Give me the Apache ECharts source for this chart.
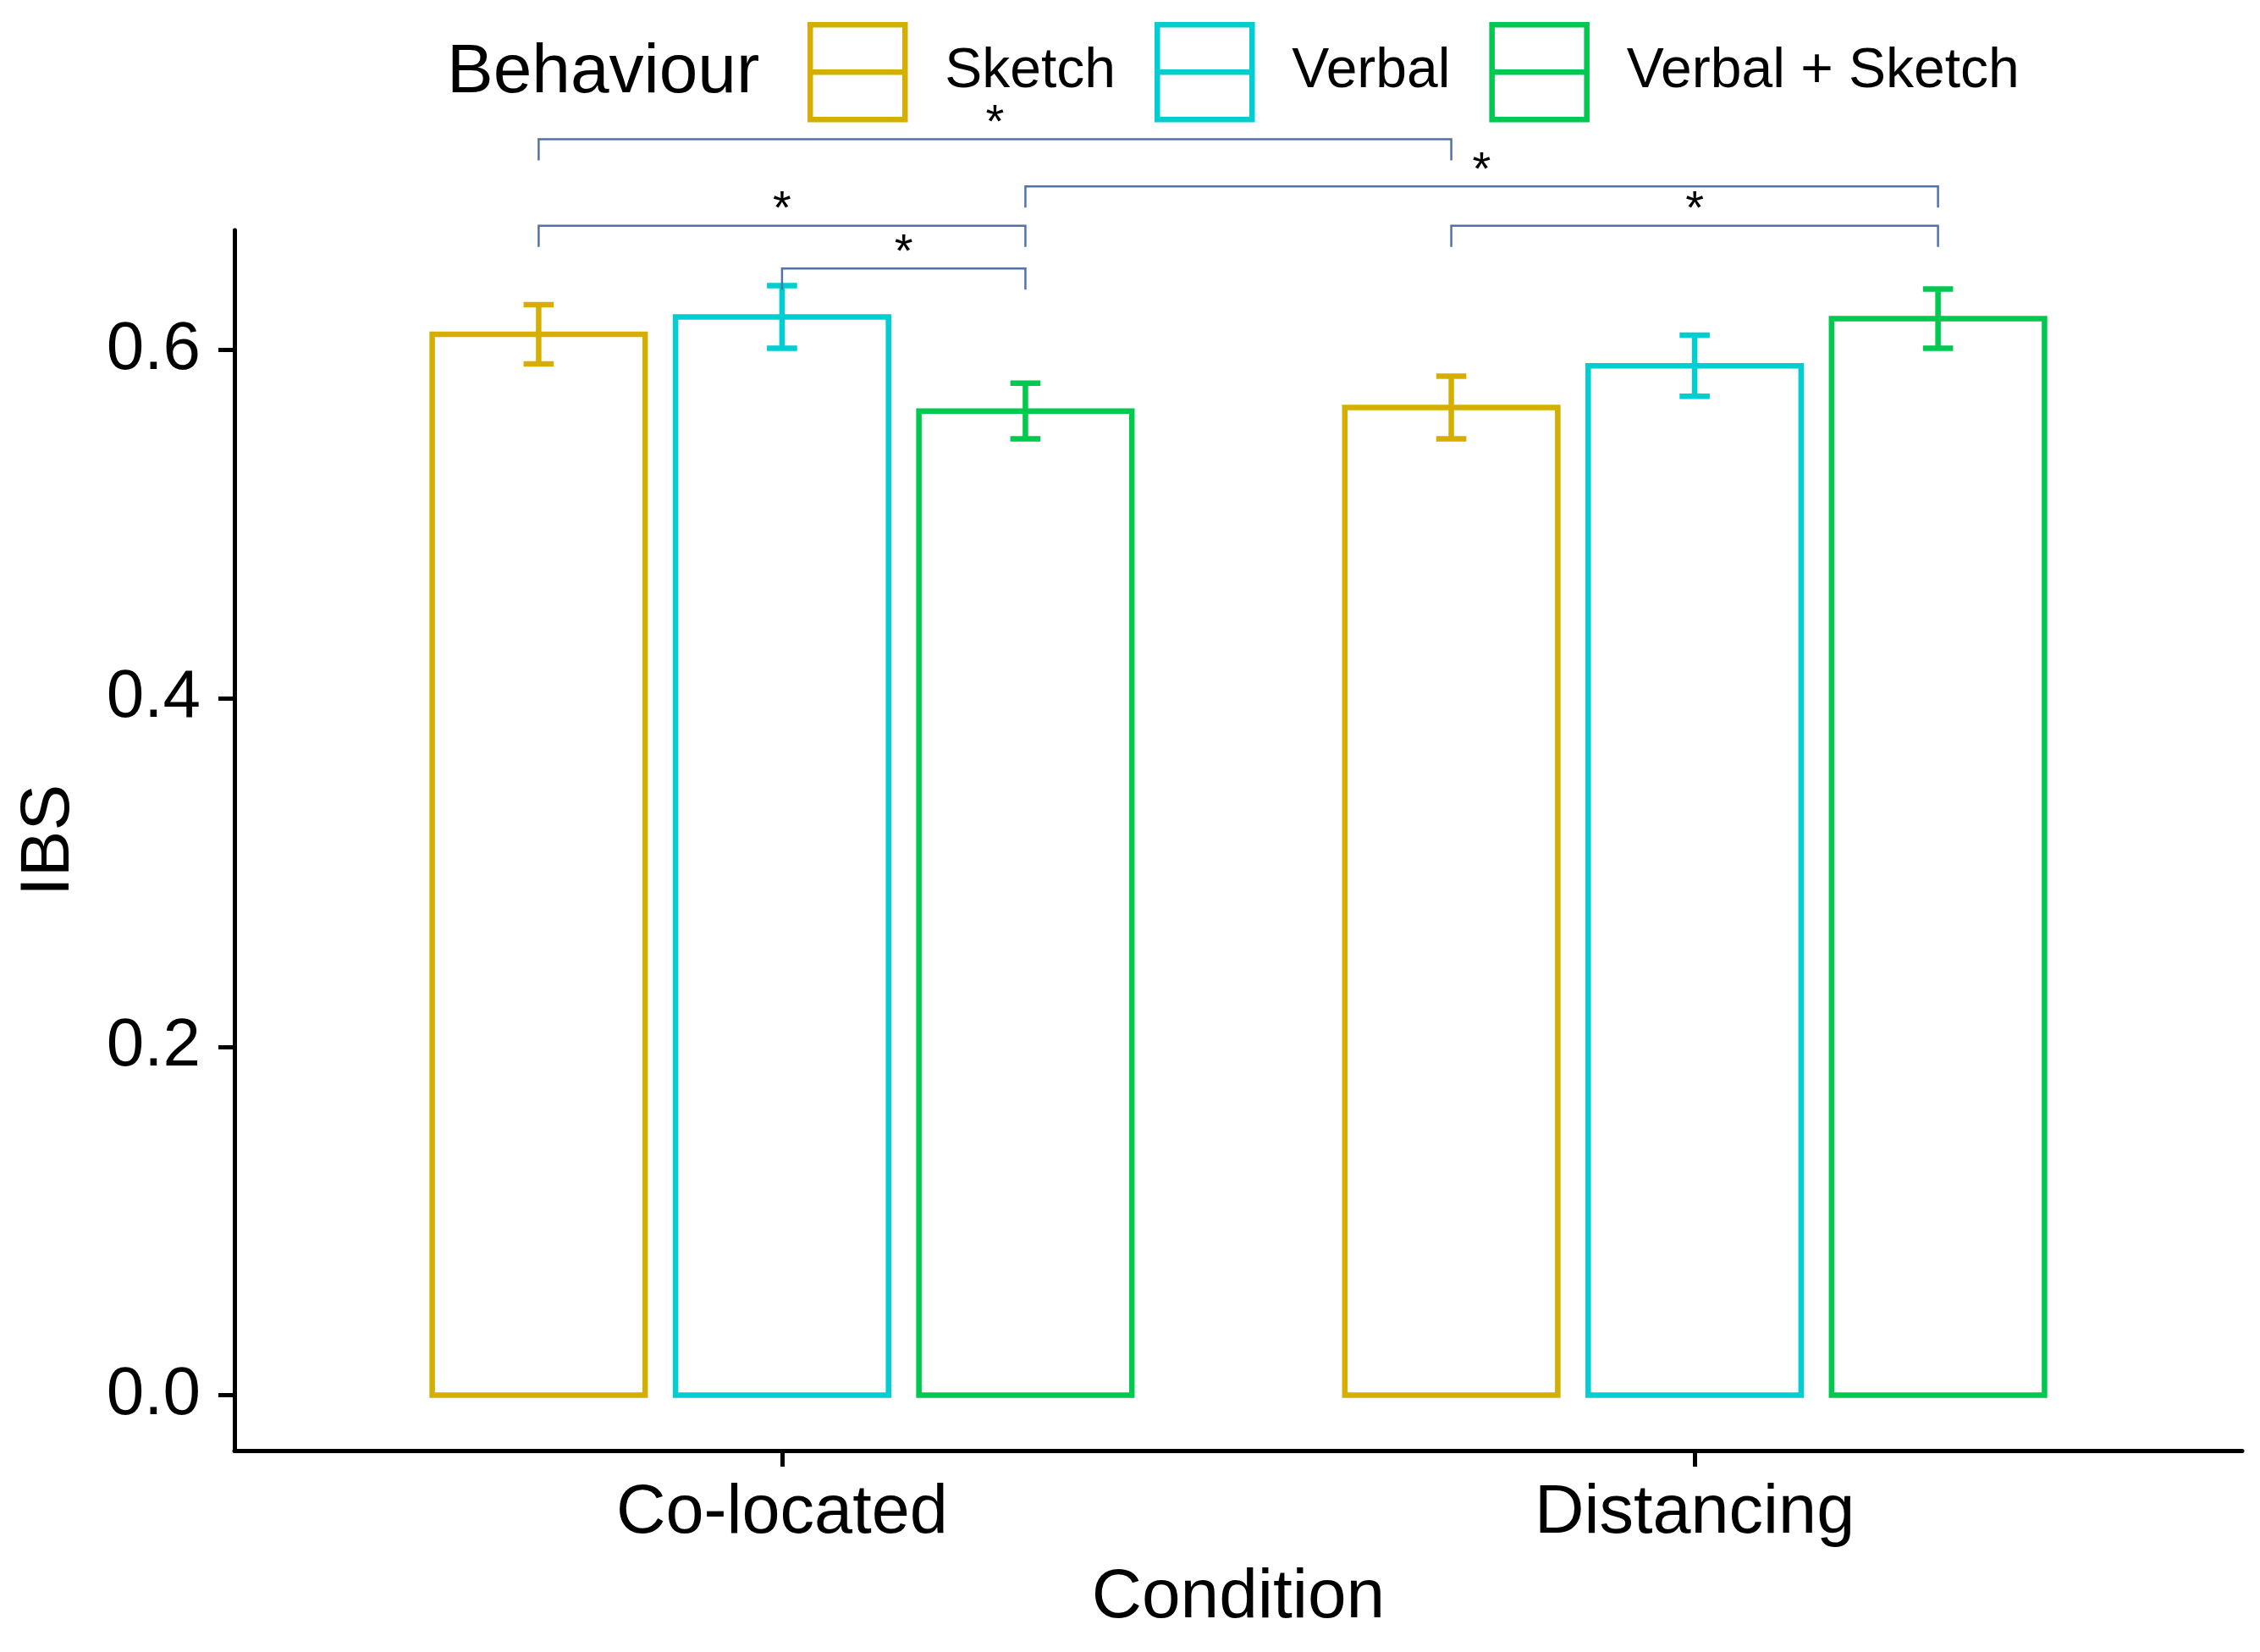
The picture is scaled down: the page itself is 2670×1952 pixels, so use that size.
<!DOCTYPE html>
<html><head><meta charset="utf-8">
<script src="https://cdn.jsdelivr.net/npm/echarts@6/dist/echarts.min.js"></script>
<style>html,body{margin:0;padding:0;background:#fff}#c{width:2670px;height:1952px}</style>
</head><body><div id="c"></div>
<script>
// ---- data ----
const conditions = ['Co-located', 'Distancing'];
const behaviours = ['Sketch', 'Verbal', 'Verbal + Sketch'];
const sketchMean = [0.609, 0.567];
const sketchSE   = [0.017, 0.018];
const verbalMean = [0.619, 0.591];
const verbalSE   = [0.018, 0.0175];
const vsMean     = [0.565, 0.618];
const vsSE       = [0.016, 0.017];
const yTicks = [0, 0.2, 0.4, 0.6];
// significance brackets: [conditionIndex, behaviourIndex]
const sigFrom  = [[0, 0], [0, 2], [0, 0], [1, 0], [0, 1]];
const sigTo    = [[1, 0], [1, 2], [0, 2], [1, 2], [0, 2]];
const sigLevel = [0.721, 0.694, 0.6713, 0.6713, 0.6468];
const sigLabel = ['*', '*', '*', '*', '*'];

// ---- style ----
const colors = ['#D6AE00', '#00CED1', '#00C94F'];
const FONT = '"Liberation Sans", Arial, Helvetica, sans-serif';
const bracketColor = '#5372A8';
const dodge = 0.8, barW = 0.7 / 3, capW = 0.033;
function xPos(cond, beh) { return cond + (beh - 1) * dodge / 3; }

function barSeries(k, means, ses) {
  return {
    type: 'custom', name: behaviours[k], coordinateSystem: 'cartesian2d',
    data: means.map((m, i) => [i, m, ses[i]]),
    encode: { x: 0, y: 1 },
    renderItem(params, api) {
      const c = api.value(0), m = api.value(1), se = api.value(2);
      const xc = xPos(c, k);
      const p0 = api.coord([xc - barW / 2, m]);
      const p1 = api.coord([xc + barW / 2, 0]);
      const eT = api.coord([xc, m + se]), eB = api.coord([xc, m - se]);
      const cL = api.coord([xc - capW / 2, m + se])[0], cR = api.coord([xc + capW / 2, m + se])[0];
      const st = { stroke: colors[k], lineWidth: 6.5 };
      return { type: 'group', children: [
        { type: 'rect', shape: { x: p0[0], y: p0[1], width: p1[0] - p0[0], height: p1[1] - p0[1] },
          style: { fill: 'none', stroke: colors[k], lineWidth: 6.5 } },
        { type: 'line', shape: { x1: eT[0], y1: eT[1], x2: eB[0], y2: eB[1] }, style: st },
        { type: 'line', shape: { x1: cL, y1: eT[1], x2: cR, y2: eT[1] }, style: st },
        { type: 'line', shape: { x1: cL, y1: eB[1], x2: cR, y2: eB[1] }, style: st }
      ] };
    }
  };
}

const sigSeries = {
  type: 'custom', coordinateSystem: 'cartesian2d', silent: true, clip: false, z: 5,
  data: sigLevel.map((lv, i) => [xPos(sigFrom[i][0], sigFrom[i][1]), xPos(sigTo[i][0], sigTo[i][1]), lv, i]),
  encode: { x: [0, 1], y: 2 },
  renderItem(params, api) {
    const a = api.coord([api.value(0), api.value(2)]);
    const b = api.coord([api.value(1), api.value(2)]);
    const drop = 25;
    return { type: 'group', children: [
      { type: 'polyline', shape: { points: [[a[0], a[1] + drop], [a[0], a[1]], [b[0], b[1]], [b[0], b[1] + drop]] },
        style: { stroke: bracketColor, lineWidth: 2.5, fill: 'none' } },
      { type: 'text', x: (a[0] + b[0]) / 2, y: a[1] - 18,
        style: { text: sigLabel[api.value(3)], fill: '#000', font: '56px ' + FONT, align: 'center', verticalAlign: 'middle' } }
    ] };
  }
};

const iconPath = 'path://M0,0 L100,0 L100,100 L0,100 Z M0,50 L100,50';

const chart = echarts.init(document.getElementById('c'), null, { renderer: 'canvas' });
chart.setOption({
  backgroundColor: '#fff',
  animation: false,
  grid: { left: 277, right: 21, top: 272, bottom: 238 },
  graphic: [{ type: 'text', left: 528, top: 45,
    style: { text: 'Behaviour', fill: '#000', font: '82px ' + FONT } }],
  legend: {
    left: 954, top: 26, padding: 0, orient: 'horizontal',
    itemWidth: 112, itemHeight: 112, itemGap: 46, selectedMode: false,
    textStyle: { fontSize: 66, fontFamily: FONT, color: '#000', padding: [0, 0, 0, 42] },
    data: behaviours.map((b, k) => ({ name: b, icon: iconPath,
      itemStyle: { color: 'rgba(0,0,0,0)', borderColor: colors[k], borderWidth: 6.5 } }))
  },
  xAxis: {
    type: 'value', min: -0.6, max: 1.6,
    axisLine: { onZero: false, lineStyle: { color: '#000', width: 5 } },
    axisTick: { customValues: [0, 1], length: 19, lineStyle: { color: '#000', width: 5 } },
    axisLabel: { customValues: [0, 1], formatter: v => conditions[Math.round(v)],
      fontSize: 81, color: '#000', fontFamily: FONT, margin: 34 },
    splitLine: { show: false },
    name: 'Condition', nameLocation: 'middle', nameGap: 133,
    nameTextStyle: { fontSize: 82, color: '#000', fontFamily: FONT }
  },
  yAxis: {
    type: 'value', min: -0.0318, max: 0.6688,
    axisLine: { show: true, onZero: false, lineStyle: { color: '#000', width: 5 } },
    axisTick: { show: true, customValues: yTicks, length: 19, lineStyle: { color: '#000', width: 5 } },
    axisLabel: { customValues: yTicks, formatter: v => v.toFixed(1),
      fontSize: 80, color: '#000', fontFamily: FONT, margin: 40 },
    splitLine: { show: false },
    name: 'IBS', nameLocation: 'middle', nameGap: 178,
    nameTextStyle: { fontSize: 82, color: '#000', fontFamily: FONT }
  },
  series: [
    barSeries(0, sketchMean, sketchSE),
    barSeries(1, verbalMean, verbalSE),
    barSeries(2, vsMean, vsSE),
    sigSeries
  ]
});
</script></body></html>
